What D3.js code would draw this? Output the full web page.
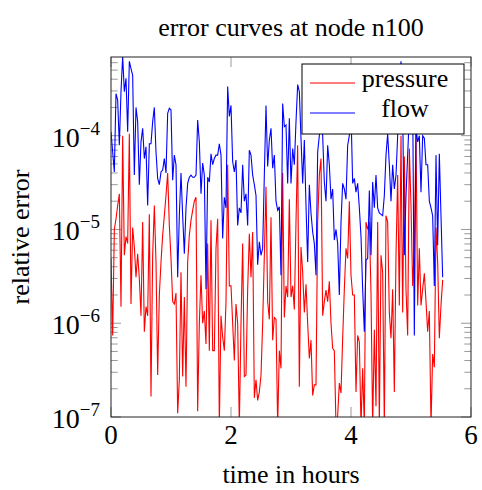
<!DOCTYPE html>
<html>
<head>
<meta charset="utf-8">
<script src="https://cdn.jsdelivr.net/npm/d3@7"></script>
<style>
    body { margin: 0; background: #fff; }
    text { font-family: "Liberation Serif", "Times New Roman", serif; fill: #000; }
</style>
</head>
<body>
<div id="chart-area"></div>
<script>
// Data: relative error, one sample every 100 s
const stepHours = 100 / 3600;

const flow = [
    1.1e-4, 6.7e-5, 4.1e-5, 2.8e-4, 2.4e-4, 7.9e-5, 2.95e-4, 7.0e-4, 2.95e-4, 4.1e-4,
    1.1e-4, 6.2e-4, 5.2e-4, 4.4e-4, 3.8e-5, 2.0e-4, 1.41e-4, 3.0e-5, 8.6e-5, 1.2e-4,
    5.7e-5, 7.6e-5, 1.8e-5, 8.2e-5, 8.2e-5, 1.41e-4, 2.0e-4, 6.7e-5, 3.5e-5, 3.0e-5,
    4.1e-5, 4.3e-5, 5.7e-5, 4.0e-5, 1.73e-4, 1.96e-4, 1.88e-4, 3.35e-5, 6.2e-5, 4.9e-5,
    3.1e-6, 1.4e-5, 4.0e-5, 1.4e-5, 5.5e-6, 1.7e-5, 3.1e-5, 3.6e-5, 3.8e-5, 3.6e-5,
    3.6e-5, 3.8e-5, 1.47e-4, 8.6e-5, 2.4e-5, 5.1e-5, 3.8e-5, 2.3e-6, 3.6e-5, 3.2e-5,
    6.4e-5, 4.9e-5, 5.7e-5, 6.2e-5, 6.2e-5, 8.2e-5, 6.2e-5, 8.0e-6, 2.2e-5, 1.7e-5,
    3.35e-4, 1.6e-4, 2.1e-4, 5.3e-5, 4.1e-5, 5.5e-5, 1.1e-5, 1.7e-5, 1.5e-5, 4.9e-5,
    2.0e-5, 2.4e-5, 1.1e-5, 7.0e-5, 6.2e-5, 3.8e-5, 3.0e-5, 2.3e-5, 4.2e-6, 7.4e-6,
    5.3e-6, 6.3e-6, 3.8e-5, 2.1e-4, 4.7e-5, 9.0e-5, 1.2e-4, 4.5e-5, 6.2e-5, 2.0e-5,
    1.6e-5, 1.75e-5, 3.25e-6, 2.2e-4, 1.25e-4, 1.3e-4, 3.1e-5, 1.53e-4, 3.1e-5, 7.3e-5,
    4.9e-5, 1.41e-4, 3.5e-4, 2.95e-4, 9.4e-5, 3.1e-5, 9.0e-5, 1.8e-5, 4.5e-6, 3.0e-5,
    1.5e-5, 9.4e-6, 7.1e-6, 3.25e-6, 6.7e-5, 1.0e-4, 1.41e-4, 1.0e-4, 3.2e-5, 2.0e-5,
    7.9e-5, 4.9e-5, 2.1e-5, 2.7e-5, 7.7e-6, 1.0e-5, 7.1e-6, 2.0e-6, 1.2e-5, 3.1e-5,
    2.7e-5, 2.1e-5, 7.9e-5, 1.0e-4, 1.8e-4, 3.1e-5, 3.5e-5, 2.5e-5, 3.1e-5, 1.7e-5,
    8.4e-6, 2.3e-6, 8.1e-7, 4.7e-6, 4.9e-6, 2.6e-5, 5.3e-6, 3.2e-5, 1.7e-5, 3.8e-5,
    1.7e-5, 1.5e-5, 1.45e-5, 1.4e-5, 2.3e-5, 6.2e-5, 1.05e-4, 4.9e-5, 2.0e-5, 4.9e-5,
    2.7e-5, 3.8e-5, 1.0e-4, 2.7e-4, 6.2e-4, 2.1e-4, 5.3e-6, 2.3e-5, 6.2e-5, 1.66e-4,
    1.41e-4, 2.7e-4, 7.4e-7, 1.2e-4, 8.6e-5, 1.0e-4, 2.5e-5, 1.0e-4, 9.4e-5, 4.9e-5,
    4.9e-5, 2.0e-5, 1.7e-5, 1.4e-5, 2.5e-6, 6.2e-5, 6.8e-6, 6.4e-5, 1.4e-5, 3.1e-6
];

const pressure = [
    4.9e-6, 7.4e-7, 1.0e-5, 1.3e-5, 1.8e-5, 2.4e-5, 1.5e-6, 1.0e-4, 5.3e-6, 8.4e-6,
    7.1e-6, 1.05e-4, 1.6e-6, 1.05e-5, 6.5e-6, 3.1e-6, 5.5e-6, 3.0e-6, 1.2e-6, 1.2e-5,
    8.1e-7, 1.5e-6, 1.2e-6, 1.45e-5, 1.65e-7, 5.3e-6, 1.8e-5, 4.5e-6, 2.8e-7, 2.0e-6,
    4.5e-6, 8.7e-6, 1.4e-5, 2.3e-5, 4.0e-5, 1.1e-5, 4.9e-6, 1.7e-6, 1.6e-6, 2.1e-6,
    1.1e-7, 2.5e-7, 3.5e-6, 2.7e-7, 1.9e-6, 2.1e-7, 4.5e-6, 8.7e-6, 1.25e-5, 1.6e-5,
    2.0e-5, 2.2e-5, 1.15e-7, 1.0e-6, 3.25e-6, 1.0e-6, 1.35e-6, 6.0e-7, 7.1e-6, 5.1e-7,
    1.25e-5, 5.1e-7, 5.1e-7, 6.3e-6, 1.3e-5, 8e-8, 1.2e-6, 7.1e-7, 5.1e-7, 1.7e-6,
    4.9e-5, 2.5e-6, 2.5e-6, 1.0e-6, 4.0e-7, 1.6e-6, 1.0e-6, 8e-8, 1.0e-6, 7.1e-6,
    2.7e-7, 2.8e-7, 2.3e-6, 9.0e-6, 3.1e-6, 9.4e-6, 1.6e-7, 2.5e-7, 1.5e-7, 1.85e-7,
    2.8e-7, 1.0e-6, 5.3e-6, 2.85e-5, 1.7e-6, 1.1e-6, 1.35e-5, 6.6e-7, 1.15e-6, 1.1e-6,
    8e-8, 5.1e-7, 3.3e-7, 4.0e-5, 1.15e-6, 2.5e-6, 1.9e-6, 2.1e-5, 1.9e-6, 2.5e-6,
    1.4e-6, 1.2e-5, 7.9e-5, 2.1e-7, 6.5e-6, 3.5e-6, 1.3e-6, 2.6e-6, 1.0e-6, 4.2e-7,
    6.6e-7, 1.7e-7, 2.2e-7, 2.2e-7, 1.2e-5, 3.8e-5, 5.7e-5, 1.2e-6, 1.7e-6, 2.25e-6,
    1.7e-6, 2.8e-6, 1.0e-6, 5.4e-7, 5.1e-7, 8e-8, 1.04e-7, 2.3e-7, 1.8e-7, 6.9e-7,
    2.3e-6, 6.3e-6, 4.9e-6, 2.0e-5, 3.25e-6, 2.0e-6, 2.0e-6, 1.85e-7, 7.4e-7, 6.3e-7,
    8e-8, 3.3e-7, 8e-8, 1.2e-5, 1.0e-5, 1.2e-5, 2.1e-6, 8e-8, 8.5e-7, 1.3e-7,
    1.2e-5, 8e-8, 5.3e-6, 3.5e-6, 8e-8, 1.4e-5, 1.2e-5, 1.3e-6, 6.9e-7, 2.3e-6,
    1.85e-7, 5.3e-6, 3.8e-5, 1.55e-6, 1.0e-4, 1.3e-6, 6.0e-5, 2.3e-6, 7.4e-7, 7.3e-5,
    1.8e-5, 2.5e-6, 6.8e-6, 1.1e-4, 1.55e-6, 6.3e-6, 1.55e-6, 2.3e-6, 3.4e-6, 1.7e-6,
    8.1e-7, 1.35e-6, 8e-8, 4.7e-7, 3.4e-7, 1.05e-5, 4.5e-6, 6.9e-7, 1.55e-6, 2.9e-6
];

const xTicks = [0, 2, 4, 6];
const yTicks = [1e-7, 1e-6, 1e-5, 1e-4];
const yTickExp = ['\u22127', '\u22126', '\u22125', '\u22124'];

const series = [
    { name: 'pressure', color: '#ff0000', values: pressure },
    { name: 'flow', color: '#0000ff', values: flow }
];

// Margin
const margin = { left: 111, right: 11, top: 57, bottom: 73 };
const width = 482 - margin.left - margin.right;
const height = 490 - margin.top - margin.bottom;
const fontSize = '26px';

const svg = d3.select('#chart-area')
    .append('svg')
    .attr('width', width + margin.left + margin.right)
    .attr('height', height + margin.top + margin.bottom);

const g = svg.append('g')
    .attr('transform', 'translate(' + margin.left + ', ' + margin.top + ')');

// Scales
const x = d3.scaleLinear()
    .domain([0, 6])
    .range([0, width]);

const y = d3.scaleLog()
    .domain([1e-7, 6.9e-4])
    .range([height, 0]);

// Clip
svg.append('defs').append('clipPath')
    .attr('id', 'clip')
    .append('rect')
    .attr('width', width)
    .attr('height', height);

// Minor y ticks (log)
const minor = [];
[1e-7, 1e-6, 1e-5, 1e-4].forEach((dec) => {
    for (let k = 2; k <= 9; k++) {
        if (dec * k <= y.domain()[1]) minor.push(dec * k);
    }
});

const tickColor = '#999';

// Y ticks, left and right, inward
[0, width].forEach((side) => {
    const dir = side === 0 ? 1 : -1;
    g.selectAll(null)
        .data(minor)
        .enter()
        .append('line')
        .attr('x1', side)
        .attr('x2', side + dir * 6.7)
        .attr('y1', (d) => y(d))
        .attr('y2', (d) => y(d))
        .attr('stroke', tickColor)
        .attr('stroke-width', 1);
    g.selectAll(null)
        .data(yTicks)
        .enter()
        .append('line')
        .attr('x1', side)
        .attr('x2', side + dir * 10)
        .attr('y1', (d) => y(d))
        .attr('y2', (d) => y(d))
        .attr('stroke', tickColor)
        .attr('stroke-width', 1);
});

// X ticks, bottom and top, inward
[height, 0].forEach((side) => {
    const dir = side === 0 ? 1 : -1;
    g.selectAll(null)
        .data(xTicks)
        .enter()
        .append('line')
        .attr('x1', (d) => x(d))
        .attr('x2', (d) => x(d))
        .attr('y1', side)
        .attr('y2', side + dir * 10)
        .attr('stroke', tickColor)
        .attr('stroke-width', 1);
});

// Lines
const line = d3.line()
    .x((d, i) => x(i * stepHours))
    .y((d) => y(d));

g.append('g')
    .attr('clip-path', 'url(#clip)')
    .selectAll('path')
    .data(series)
    .enter()
    .append('path')
    .attr('d', (d) => line(d.values))
    .attr('fill', 'none')
    .attr('stroke', (d) => d.color)
    .attr('stroke-width', 1.1);

// Frame
g.append('rect')
    .attr('width', width)
    .attr('height', height)
    .attr('fill', 'none')
    .attr('stroke', '#222')
    .attr('stroke-width', 1);

// X tick labels
g.selectAll('.xlabel')
    .data(xTicks)
    .enter()
    .append('text')
    .attr('class', 'xlabel')
    .attr('x', (d) => x(d))
    .attr('y', height + 27)
    .attr('font-size', '27px')
    .attr('text-anchor', 'middle')
    .text((d) => d);

// Y tick labels
const yLabels = g.selectAll('.ylabel')
    .data(yTicks)
    .enter()
    .append('text')
    .attr('class', 'ylabel')
    .attr('x', -11)
    .attr('y', (d) => y(d) + 11)
    .attr('font-size', '28px')
    .attr('text-anchor', 'end');
yLabels.append('tspan').text('10');
yLabels.append('tspan')
    .attr('dy', -12)
    .attr('font-size', '19px')
    .text((d, i) => yTickExp[i]);

// Title
g.append('text')
    .attr('x', width / 2)
    .attr('y', -21)
    .attr('font-size', fontSize)
    .attr('text-anchor', 'middle')
    .text('error curves at node n100');

// X Label
g.append('text')
    .attr('x', width / 2)
    .attr('y', height + 66)
    .attr('font-size', fontSize)
    .attr('text-anchor', 'middle')
    .text('time in hours');

// Y Label
g.append('text')
    .attr('x', -(height / 2))
    .attr('y', 29 - margin.left)
    .attr('font-size', fontSize)
    .attr('text-anchor', 'middle')
    .attr('transform', 'rotate(-90)')
    .text('relative error');

// Legend
const legend = g.append('g')
    .attr('transform', 'translate(' + (302 - margin.left) + ', ' + (64 - margin.top) + ')');

legend.append('rect')
    .attr('width', 162)
    .attr('height', 70)
    .attr('fill', '#fff')
    .attr('stroke', '#000')
    .attr('stroke-width', 1);

const items = legend.selectAll('.item')
    .data(series)
    .enter()
    .append('g')
    .attr('class', 'item')
    .attr('transform', (d, i) => 'translate(0, ' + (19 + i * 30) + ')');

items.append('line')
    .attr('x1', 8)
    .attr('x2', 53)
    .attr('stroke', (d) => d.color)
    .attr('stroke-width', 1.1);

items.append('text')
    .attr('x', 103)
    .attr('y', 4)
    .attr('font-size', fontSize)
    .attr('text-anchor', 'middle')
    .text((d) => d.name);
</script>
</body>
</html>
